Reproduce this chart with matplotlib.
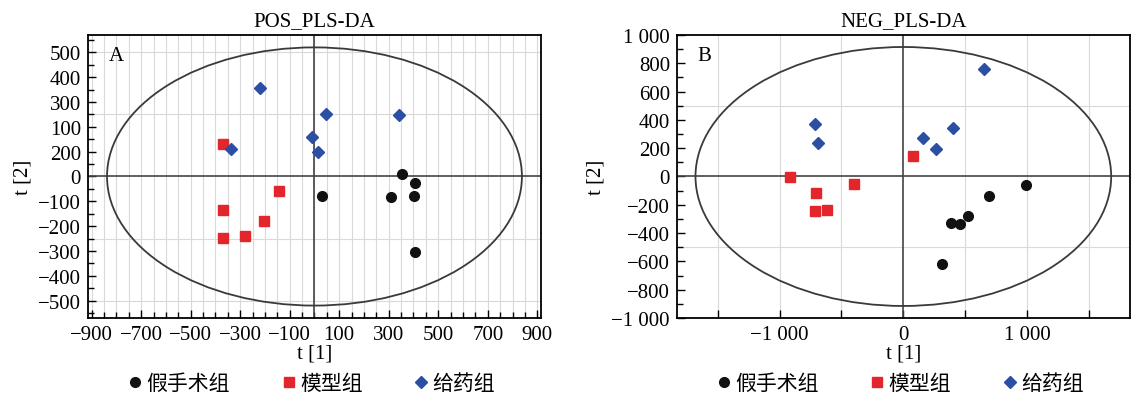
import numpy as np
import matplotlib
matplotlib.use("Agg")
import matplotlib.pyplot as plt
from matplotlib.patches import Ellipse

plt.rcParams['font.family'] = ['Liberation Serif', 'Noto Sans CJK SC']
plt.rcParams['axes.unicode_minus'] = True

groups = ['假手术组', '模型组', '给药组']

# POS mode scores t[1], t[2]
pos_sham_t1 = [31, 310, 354, 408, 404, 408]
pos_sham_t2 = [-77, -82, 10, -27, -80, -303]
pos_model_t1 = [-370, -370, -279, -202, -144, -370]
pos_model_t2 = [-135, -246, -239, -179, -57, 131]
pos_drug_t1 = [-222, -337, -11, 16, 48, 343]
pos_drug_t2 = [357, 110, 158, 100, 251, 247]

# NEG mode scores t[1], t[2]
neg_sham_t1 = [992, 691, 521, 385, 457, 315]
neg_sham_t2 = [-59, -138, -281, -330, -335, -619]
neg_model_t1 = [76, -916, -395, -702, -710, -621]
neg_model_t2 = [143, -7, -56, -115, -244, -235]
neg_drug_t1 = [651, -710, -688, 156, 264, 402]
neg_drug_t2 = [761, 370, 239, 274, 192, 344]

# Hotelling T2 ellipse semi-axes
pos_ellipse = (838, 520)
neg_ellipse = (1680, 915)

pos_xticks = list(range(-900, 901, 200))
pos_yticks = list(range(-500, 501, 100))
pos_ytick_labels = ['−500', '−400', '−300', '−200', '−100', '0',
                    '200', '100', '300', '400', '500']
neg_xticks = [-1000, 0, 1000]
neg_xtick_labels = ['−1 000', '0', '1 000']
neg_yticks = list(range(-1000, 1001, 200))
neg_ytick_labels = ['−1 000', '−800', '−600', '−400', '−200', '0',
                    '200', '400', '600', '800', '1 000']

colors = ['#111111', '#e3262b', '#2b4fa3']
markers = ['o', 's', 'D']
sizes = [7, 6.5, 6.5]

fig = plt.figure(figsize=(11.32, 4.02), dpi=100)
axA = fig.add_axes([0.0777, 0.2065, 0.4002, 0.704])
axB = fig.add_axes([0.598, 0.2065, 0.400, 0.704])

FS = 15
grid_c = '#d9d9d9'


def draw(ax, series, ell, title, letter):
    for (x, y), c, m, s, g in zip(series, colors, markers, sizes, groups):
        ax.plot(x, y, ls='none', marker=m, color=c, ms=s, mec=c, label=g, zorder=5)
    ax.add_patch(Ellipse((0, 0), 2 * ell[0], 2 * ell[1], fill=False,
                         ec='#3a3a3a', lw=1.3, zorder=3))
    ax.axhline(0, color='#444444', lw=1.2, zorder=2)
    ax.axvline(0, color='#444444', lw=1.2, zorder=2)
    ax.set_title(title, fontsize=FS, pad=7)
    ax.text(0.045, 0.96, letter, transform=ax.transAxes, fontsize=FS,
            va='top', ha='left')
    ax.set_xlabel('t [1]', fontsize=FS, labelpad=0)
    ax.set_ylabel('t [2]', fontsize=FS, labelpad=4)
    ax.tick_params(which='both', direction='in', top=False, right=False,
                   labelsize=FS, pad=5)
    ax.tick_params(which='major', length=6, width=1)
    ax.tick_params(which='minor', length=4, width=1)
    for sp in ax.spines.values():
        sp.set_linewidth(1.3)
    ax.legend(loc='center', bbox_to_anchor=(0.49, -0.23), ncol=3,
              frameon=False, columnspacing=2.3, handletextpad=0.05,
              handlelength=1.0, markerscale=1.0, borderpad=0,
              prop={'family': ['Noto Sans CJK SC'], 'size': 15})


draw(axA, [(pos_sham_t1, pos_sham_t2), (pos_model_t1, pos_model_t2),
           (pos_drug_t1, pos_drug_t2)], pos_ellipse, 'POS_PLS-DA', 'A')
axA.set_xlim(-915, 915)
axA.set_ylim(-570, 570)
axA.set_xticks(pos_xticks)
axA.set_xticks(np.arange(-900, 901, 50), minor=True)
axA.set_yticks(pos_yticks, pos_ytick_labels)
axA.set_yticks(np.arange(-550, 551, 50), minor=True)
axA.grid(which='both', axis='x', color=grid_c, lw=0.8, zorder=0)
for lv in (-500, -250, 250, 500):
    axA.axhline(lv, color=grid_c, lw=0.8, zorder=0)
axA.set_axisbelow(True)

draw(axB, [(neg_sham_t1, neg_sham_t2), (neg_model_t1, neg_model_t2),
           (neg_drug_t1, neg_drug_t2)], neg_ellipse, 'NEG_PLS-DA', 'B')
axB.set_xlim(-1830, 1830)
axB.set_ylim(-1000, 1000)
axB.set_xticks(neg_xticks, neg_xtick_labels)
axB.set_xticks([-1500, -500, 500, 1500], minor=True)
axB.tick_params(axis='x', which='minor', length=6)
axB.set_yticks(neg_yticks, neg_ytick_labels)
axB.set_yticks(np.arange(-900, 901, 200), minor=True)
for lv in (-1500, -1000, -500, 500, 1000, 1500):
    axB.axvline(lv, color=grid_c, lw=0.8, zorder=0)
for lv in (-500, 500):
    axB.axhline(lv, color=grid_c, lw=0.8, zorder=0)
axB.set_axisbelow(True)

fig.savefig('out.png', dpi=100)
